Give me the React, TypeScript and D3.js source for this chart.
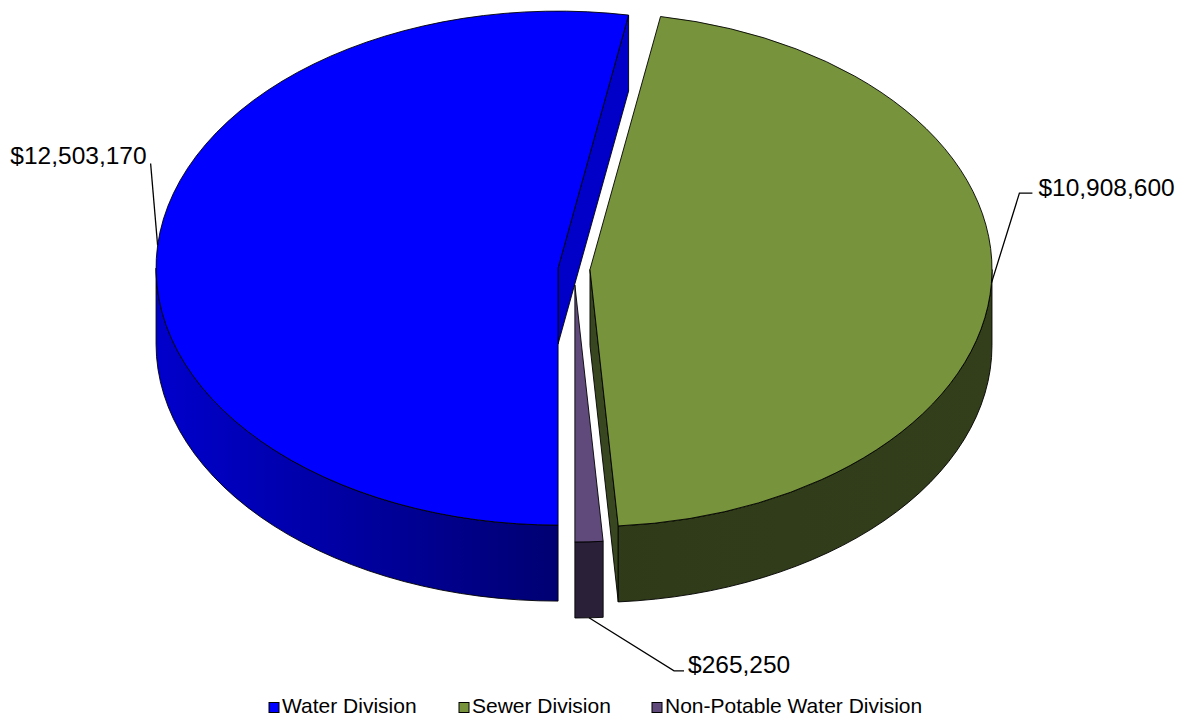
import React from 'react';
import * as d3 from 'd3';

// ---- data ----
const categories = ['Water Division', 'Sewer Division', 'Non-Potable Water Division'];
const values = [12503170, 10908600, 265250];
const valueLabels = ['$12,503,170', '$10,908,600', '$265,250'];

// ---- styles ----
const topColors = ['#0000FF', '#77933C', '#604A7B'];
const sideLeft = ['#0000CC', '#34411C', '#2D2440'];
const sideMid = ['#000072', '#2F3A19', '#2A2138'];
const sideRight = ['#000072', '#333F1B', '#2A2138'];
const cutColors = ['#0000C8', '#394720', '#3A2F4F'];
const explode = [16, 16, 25];
// label leader offsets relative to anchor
const labelLayout = [
  { ex: -7, ey: -82, hx: -7, tx: -11, ty: -81, anchor: 'end' },
  { ex: 28, ey: -90, hx: 41, tx: 47, ty: -87, anchor: 'start' },
  { ex: 85, ey: 53, hx: 95, tx: 99, ty: 55, anchor: 'start' },
];
const legendX = [269, 459, 652];

const W = 1193, H = 717;
const CX = 574, CY = 269, RX = 402, RY = 257, DEPTH = 76;
const ROT = Math.PI;
const FONT = "'Liberation Sans', Arial, Helvetica, sans-serif";

type P = [number, number];
const pt = (c: P, a: number, z: number): P => [c[0] + RX * Math.sin(a), c[1] - RY * Math.cos(a) + z];
const s = (p: P) => `${p[0].toFixed(2)},${p[1].toFixed(2)}`;

export default function App() {
  const pie = d3.pie<number>().sort(null).value((d) => d);
  const arcs = pie(values).map((a, i) => {
    const a0 = a.startAngle + ROT;
    const a1 = a.endAngle + ROT;
    const mid = (a0 + a1) / 2;
    const e = explode[i];
    const c: P = [CX + e * Math.sin(mid), CY - e * Math.cos(mid) * (RY / RX)];
    return { i, a0, a1, mid, c };
  });

  const order = [...arcs].sort((p, q) => p.c[1] - q.c[1]);

  const sliceEls = order.map(({ i, a0, a1, c }) => {
    const els: React.ReactNode[] = [];
    const cut = (a: number, normal: number, key: string) => {
      if (Math.cos(normal) < -1e-6) {
        const d = `M${s(c)} L${s(pt(c, a, 0))} L${s(pt(c, a, DEPTH))} L${s([c[0], c[1] + DEPTH])} Z`;
        els.push(<path key={key} d={d} fill={cutColors[i]} stroke="#000" strokeWidth={0.9} strokeLinejoin="round" />);
      }
    };
    cut(a0, a0 - Math.PI / 2, 'cs');
    cut(a1, a1 + Math.PI / 2, 'ce');
    for (let k = 0; k < 2; k++) {
      const v0 = Math.PI / 2 + 2 * Math.PI * k;
      const v1 = (3 * Math.PI) / 2 + 2 * Math.PI * k;
      const s0 = Math.max(a0, v0), s1 = Math.min(a1, v1);
      if (s1 > s0) {
        const d = `M${s(pt(c, s0, 0))} A${RX},${RY} 0 0 1 ${s(pt(c, s1, 0))} L${s(pt(c, s1, DEPTH))} A${RX},${RY} 0 0 0 ${s(pt(c, s0, DEPTH))} Z`;
        els.push(<path key={'side' + k} d={d} fill={`url(#side${i})`} stroke="#000" strokeWidth={0.9} strokeLinejoin="round" />);
      }
    }
    const large = a1 - a0 > Math.PI ? 1 : 0;
    const dTop = `M${s(c)} L${s(pt(c, a0, 0))} A${RX},${RY} 0 ${large} 1 ${s(pt(c, a1, 0))} Z`;
    els.push(<path key="top" d={dTop} fill={topColors[i]} stroke="#000" strokeWidth={0.9} strokeLinejoin="round" />);
    return <g key={i}>{els}</g>;
  });

  const labelEls = arcs.map(({ i, mid, c }) => {
    const front = Math.cos(mid) < -0.9;
    const anc = pt(c, mid, front ? DEPTH : 0);
    const L = labelLayout[i];
    const elbow: P = [anc[0] + L.ex, anc[1] + L.ey];
    const end: P = [anc[0] + L.hx, anc[1] + L.ey];
    return (
      <g key={'l' + i}>
        <polyline points={`${s(anc)} ${s(elbow)} ${s(end)}`} fill="none" stroke="#000" strokeWidth={1.3} />
        <text x={anc[0] + L.tx} y={anc[1] + L.ty} textAnchor={L.anchor as any} fontFamily={FONT} fontSize={24.5} fill="#000">
          {valueLabels[i]}
        </text>
      </g>
    );
  });

  return (
    <svg width={W} height={H} style={{ position: 'absolute', left: 0, top: 0, background: '#fff' }}>
      <defs>
        {arcs.map(({ i, c }) => (
          <linearGradient key={i} id={`side${i}`} gradientUnits="userSpaceOnUse" x1={c[0] - RX} x2={c[0] + RX} y1={0} y2={0}>
            <stop offset="0" stopColor={sideLeft[i]} />
            <stop offset="0.5" stopColor={sideMid[i]} />
            <stop offset="1" stopColor={sideRight[i]} />
          </linearGradient>
        ))}
      </defs>
      <rect x={0} y={0} width={W} height={H} fill="#fff" />
      {sliceEls}
      {labelEls}
      {categories.map((name, i) => (
        <g key={'lg' + i}>
          <rect x={legendX[i]} y={702.5} width={10} height={10} fill={topColors[i]} stroke="#000" strokeWidth={1} />
          <text x={legendX[i] + 13} y={712.5} fontFamily={FONT} fontSize={21} fill="#000">{name}</text>
        </g>
      ))}
    </svg>
  );
}
